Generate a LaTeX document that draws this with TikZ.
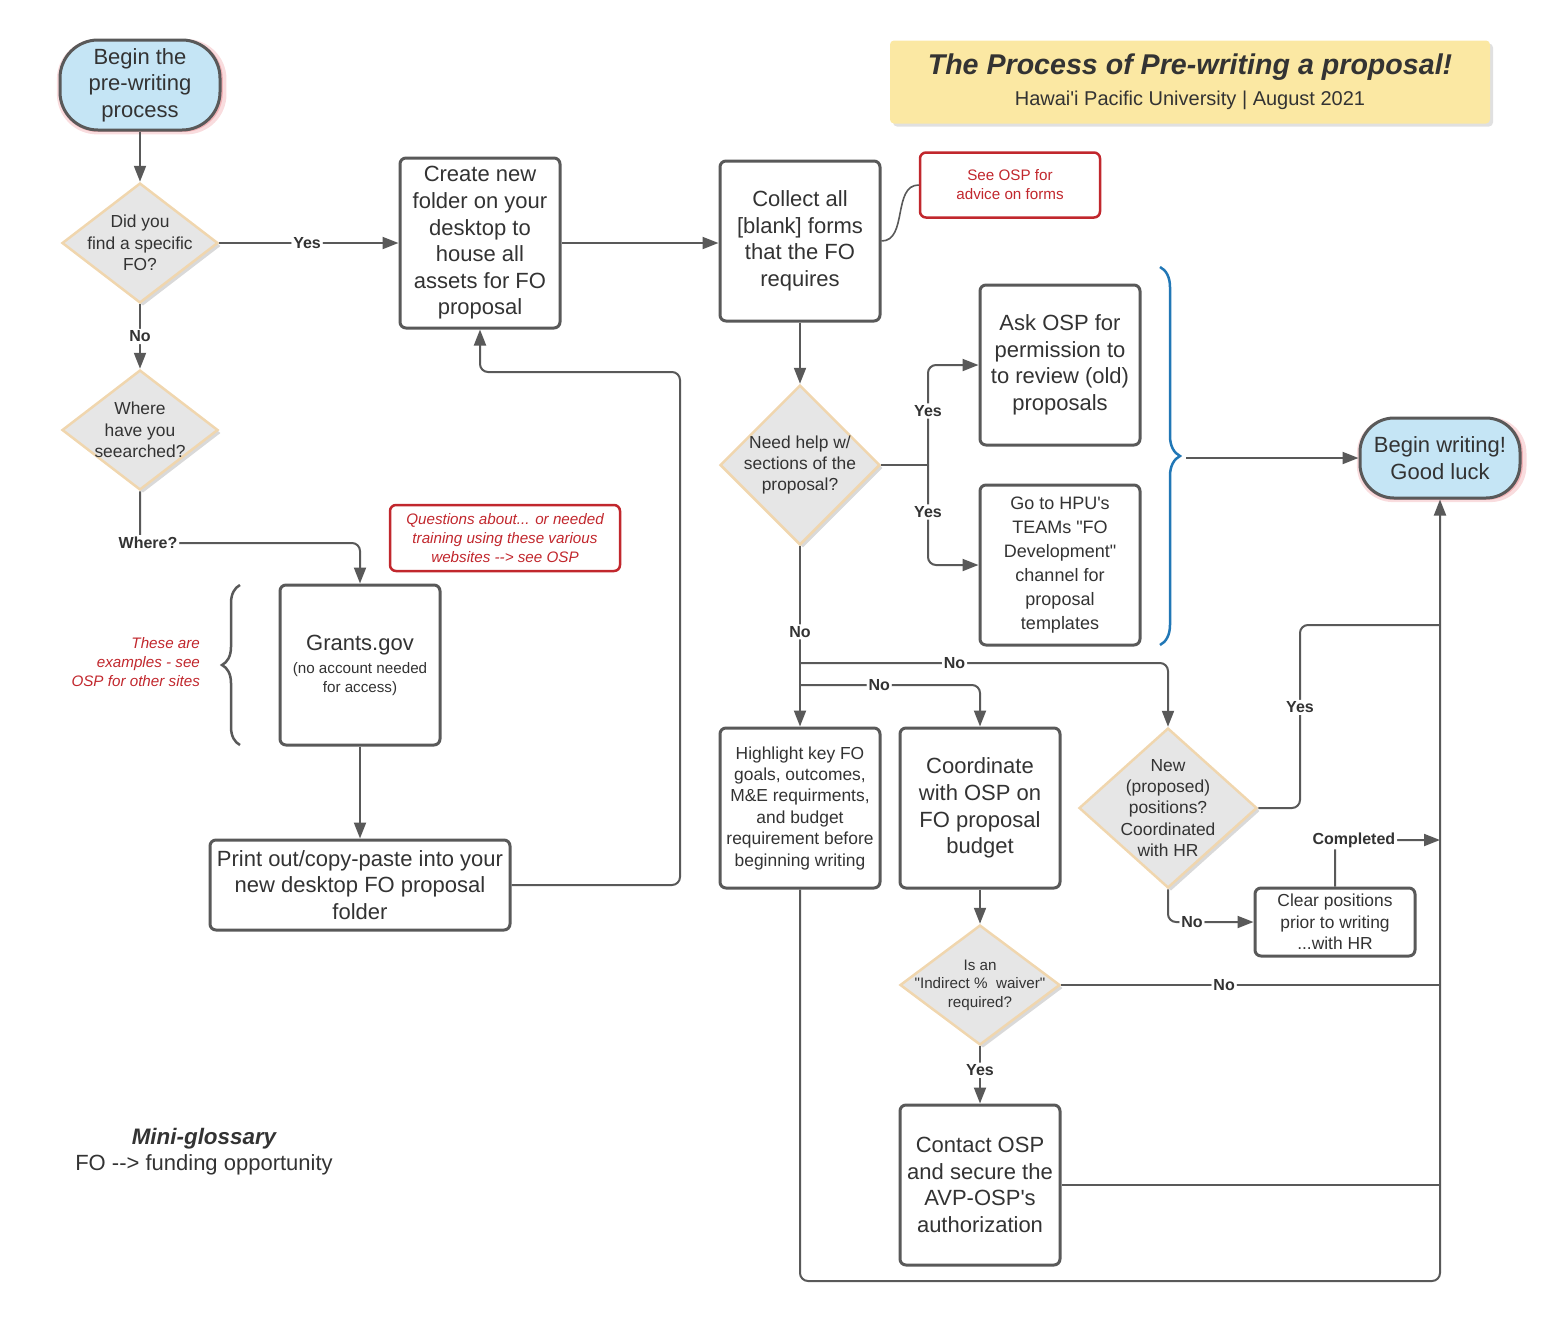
\documentclass[tikz,border=0pt]{standalone}
\usepackage{fontspec}
\setmainfont{Liberation Sans}[Ligatures=TeXOff]
\usepackage{tikz}
\usetikzlibrary{arrows.meta,%
		decorations.pathreplacing,%
		positioning,%
		shadows,%
		shapes.geometric}
\definecolor{linea}{HTML}{595959}
\definecolor{testoc}{HTML}{333333}
\definecolor{cielo}{HTML}{C5E5F5}
\definecolor{alone}{HTML}{E0525A}
\definecolor{rombo}{HTML}{E6E6E6}
\definecolor{bordo}{HTML}{F0D6AE}
\definecolor{rosso}{HTML}{C1272D}
\definecolor{blu}{HTML}{2177B6}
\definecolor{giallo}{HTML}{FBE8A3}
\newcommand{\grande}{\fontsize{11}{13.3}\selectfont}
\newcommand{\medio}{\fontsize{8.7}{10.7}\selectfont}
\newcommand{\piccolo}{\fontsize{7.6}{9.5}\selectfont}

\begin{document}
\begin{tikzpicture}[x=0.5pt,y=-0.5pt,
	term/.style={draw=linea, line width=1.5pt, fill=cielo, rounded corners=19pt,
		align=center, font=\grande, text=testoc, inner sep=0pt,
		minimum width=80pt, minimum height=45pt,
		general shadow={fill=alone, opacity=.2, shadow scale=1.06, shadow xshift=.8pt, shadow yshift=-.8pt},
		general shadow={fill=alone, opacity=.3, shadow scale=1.025, shadow xshift=.4pt, shadow yshift=-.4pt}},
	dec/.style={diamond, draw=bordo, line width=1.25pt, fill=rombo, inner sep=0pt,
		minimum width=78pt, minimum height=60pt,
		drop shadow={opacity=.3, shadow xshift=1.5pt, shadow yshift=-1.5pt}},
	dtx/.style={align=center, font=\medio, text=testoc, inner sep=0pt},
	box/.style={draw=linea, line width=1.5pt, rounded corners=3pt, fill=white,
		align=center, font=\grande, text=testoc, inner sep=1pt,
		minimum width=80pt, minimum height=80pt},
	nota/.style={draw=rosso, line width=1.25pt, rounded corners=3pt, align=center,
		text=rosso, font=\piccolo, inner sep=1pt},
	conn/.style={draw=linea, line width=1pt, rounded corners=4pt},
	freccia/.style={conn, -{Triangle[length=8pt,width=6pt]}},
	lbl/.style={fill=white, inner sep=1pt, text=testoc, font=\bfseries\fontsize{8}{9}\selectfont},
	graffa/.style={draw=linea, line width=1.25pt, decorate, decoration={brace, amplitude=9pt, aspect=.5}}]
\useasboundingbox (0,0) rectangle (1560,1324);
%Titolo
\node[fill=giallo, rounded corners=2pt, minimum width=300pt, minimum height=41.5pt, align=center, text=testoc,
	font=\fontsize{10}{15.5}\selectfont, general shadow={fill=black!40, opacity=.3, shadow xshift=1.5pt, shadow yshift=-1.5pt}]
	(titolo) at (1190,82) {\fontsize{14.3}{15}\selectfont\bfseries\itshape The Process of Pre-writing a proposal!\\Hawai'i Pacific University | August 2021};
%Colonna sinistra
\node[term] (inizio) at (140,85) {Begin the\\pre-writing\\process};
\node[dec, label={[dtx]center:{Did you\\find a specific\\FO?}}] (trovato) at (140,243) {};
\node[dec, label={[dtx]center:{Where\\have you\\seearched?}}] (dove) at (140,430) {};
\node[box, font=\piccolo] (grants) at (360,665) {\grande Grants.gov\\[2pt](no account needed\\for access)};
\node[box, minimum width=150pt, minimum height=45pt] (stampa) at (360,885) {Print out/copy-paste into your\\new desktop FO proposal\\folder};
\node[nota, font=\piccolo\itshape, minimum width=115pt, minimum height=33pt] (domande) at (505,538) {Questions about... or needed\\training using these various\\websites --> see OSP};
\node[anchor=east, align=right, text=rosso, font=\piccolo\itshape] (esempi) at (207,662) {These are\\examples - see\\OSP for other sites};
\draw[graffa] (240,745) -- (240,585);
\node[font=\fontsize{11.2}{13}\selectfont\bfseries\itshape, text=testoc] (glossario) at (204,1139) {Mini-glossary};
\node[font=\fontsize{11}{13}\selectfont, text=testoc] (sigla) at (204,1165) {FO --> funding opportunity};
%Colonna centrale
\node[box, minimum height=85pt] (cartella) at (480,243) {Create new\\folder on your\\desktop to\\house all\\assets for FO\\proposal};
\node[box] (raccolta) at (800,241) {Collect all\\{[}blank{]} forms\\that the FO\\requires};
\node[nota, minimum width=90pt, minimum height=32.5pt] (osp) at (1010,185) {See OSP for\\advice on forms};
\node[dec, minimum width=80pt, minimum height=80pt, label={[dtx]center:{Need help w/\\sections of the\\proposal?}}] (aiuto) at (800,465) {};
\node[box] (chiedi) at (1060,365) {Ask OSP for\\permission to\\to review (old)\\proposals};
\node[box, font=\fontsize{9}{12}\selectfont] (teams) at (1060,565) {Go to HPU's\\TEAMs "FO\\Development"\\channel for\\proposal\\templates};
\draw[graffa, draw=blu, decoration={amplitude=10pt}] (1160,267) -- (1160,645);
\coordinate (punta) at (1186,458);
\node[term, minimum height=40pt, rounded corners=17pt] (fine) at (1440,458) {Begin writing!\\Good luck};
%Parte bassa
\node[box, font=\medio] (evidenzia) at (800,808) {Highlight key FO\\goals, outcomes,\\M\&E requirments,\\and budget\\requirement before\\beginning writing};
\node[box] (budget) at (980,808) {Coordinate\\with OSP on\\FO proposal\\budget};
\node[dec, minimum width=89pt, minimum height=80pt, label={[dtx]center:{New\\(proposed)\\positions?\\Coordinated\\with HR}}] (posizioni) at (1168,808) {};
\node[box, minimum height=34pt, font=\medio] (libera) at (1335,922) {Clear positions\\prior to writing\\...with HR};
\node[dec, minimum width=80pt, minimum height=60pt, label={[dtx, font=\fontsize{7.6}{9.3}\selectfont]center:{Is an\\"Indirect \%~~waiver"\\required?}}] (waiver) at (980,985) {};
\node[box] (contatta) at (980,1185) {Contact OSP\\and secure the\\AVP-OSP's\\authorization};
\coordinate (where) at (140,543);
\coordinate (ramo) at (928,465);
\coordinate (no1) at (800,663);
\coordinate (no2) at (800,685);
\coordinate (si) at (1300,625);
\coordinate (fondo) at (1440,1281);
%Connettori
\draw[freccia] (inizio) -- (trovato);
\draw[freccia] (trovato) -- node[lbl, pos=.49]{Yes} (cartella);
\draw[freccia] (trovato) -- node[lbl]{No} (dove);
\draw[freccia] (dove) -- (where) node[lbl, xshift=4pt]{Where?} -| (grants);
\draw[freccia] (grants) -- (stampa);
\draw[freccia] (stampa) -| (680,372) -| (cartella);
\draw[freccia] (cartella) -- (cartella.east -| raccolta.west);
\draw[conn, line width=.8pt] (raccolta.east) to[out=0, in=180] (osp.west);
\draw[freccia] (raccolta) -- (aiuto);
\draw[conn] (aiuto.east) -- (ramo);
\draw[freccia] (ramo) |- node[lbl, pos=.27]{Yes} (chiedi);
\draw[freccia] (ramo) |- node[lbl, pos=.235]{Yes} (teams);
\draw[freccia] (punta) -- (fine);
\draw[freccia] (aiuto) -- node[lbl, pos=.475]{No} (evidenzia);
\draw[freccia] (no1) -| node[lbl, pos=.21]{No} (posizioni);
\draw[freccia] (no2) -| node[lbl, pos=.22]{No} (budget);
\draw[conn] (posizioni.east) -| node[lbl, pos=.775]{Yes} (si) -- (si -| fondo);
\draw[freccia] (posizioni) |- node[lbl, pos=.64]{No} (libera);
\draw[freccia] (libera) |- node[lbl, pos=.59]{Completed} (1440,840);
\draw[freccia] (budget) -- (waiver);
\draw[conn] (waiver) -- node[lbl, pos=.43]{No} (waiver -| fondo);
\draw[freccia] (waiver) -- node[lbl, pos=.42]{Yes} (contatta);
\draw[conn] (contatta) -- (contatta -| fondo);
\draw[freccia] (evidenzia) |- (fondo) -- (fine);
\end{tikzpicture}
\end{document}
